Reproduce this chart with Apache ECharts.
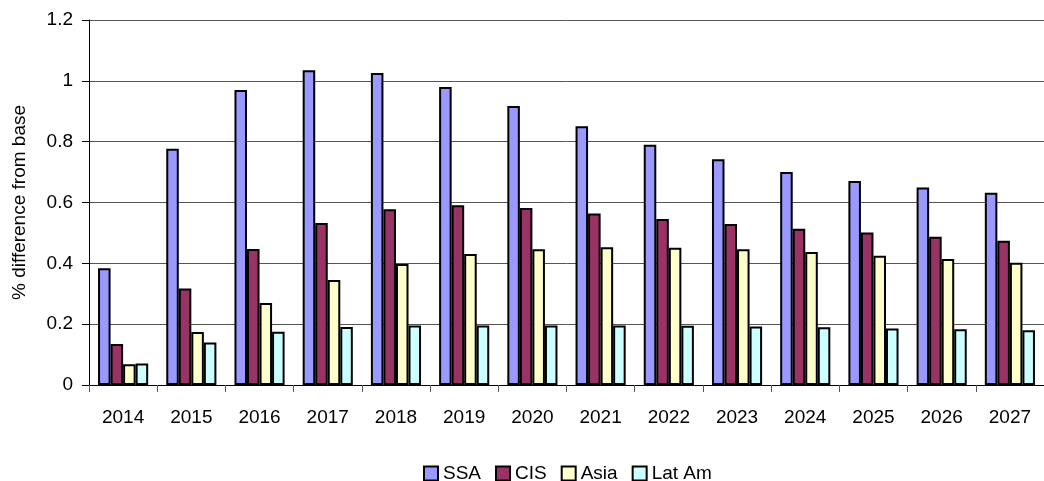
<!DOCTYPE html>
<html>
<head>
<meta charset="utf-8">
<script src="https://cdn.jsdelivr.net/npm/echarts@6/dist/echarts.min.js"></script>
<style>
html,body{margin:0;padding:0;background:#fff;}
#chart{width:1044px;height:481px;}
</style>
</head>
<body>
<div id="chart"></div>
<script>
const categories = ['2014','2015','2016','2017','2018','2019','2020','2021','2022','2023','2024','2025','2026','2027'];
const ssa   = [0.384,0.777,0.970,1.035,1.026,0.980,0.917,0.851,0.790,0.742,0.700,0.671,0.649,0.632];
const cis   = [0.135,0.317,0.447,0.533,0.578,0.591,0.582,0.564,0.546,0.529,0.514,0.501,0.487,0.474];
const asia  = [0.068,0.174,0.270,0.345,0.398,0.431,0.446,0.453,0.451,0.446,0.437,0.425,0.414,0.402];
const latam = [0.071,0.140,0.175,0.191,0.196,0.196,0.196,0.196,0.195,0.192,0.190,0.186,0.183,0.180];
const seriesNames = ['SSA','CIS','Asia','Lat Am'];
const yTicks = ['0','0.2','0.4','0.6','0.8','1','1.2'];

const colors = ['#9999FF','#993366','#FFFFCC','#CCFFFF'];
const font = 'Liberation Sans, Arial, sans-serif';
const chart = echarts.init(document.getElementById('chart'));
const values = [ssa, cis, asia, latam];
chart.setOption({
  animation: false,
  backgroundColor: '#fff',
  textStyle: { fontFamily: font, color: '#000' },
  grid: { left: 89, top: 20, width: 964, height: 365, containLabel: false },
  legend: {
    data: seriesNames,
    left: 418, top: 459,
    itemWidth: 14, itemHeight: 14, itemGap: 14,
    icon: 'rect',
    itemStyle: { borderColor: '#000', borderWidth: 2 },
    textStyle: { fontFamily: font, fontSize: 19, color: '#000', padding: [0, 0, 0, 0] }
  },
  xAxis: {
    type: 'category',
    data: categories,
    boundaryGap: true,
    axisLine: { lineStyle: { color: '#000', width: 1 } },
    axisTick: { show: true, length: 7, lineStyle: { color: '#555' } },
    axisLabel: { fontFamily: font, fontSize: 19, color: '#000', margin: 23, interval: 0 }
  },
  yAxis: {
    type: 'value',
    min: 0, max: 1.2, interval: 0.2,
    name: '% difference from base',
    nameLocation: 'middle',
    nameGap: 60,
    nameTextStyle: { fontFamily: font, fontSize: 19, color: '#000' },
    axisLine: { show: true, lineStyle: { color: '#000', width: 1 } },
    axisTick: { show: true, length: 7, lineStyle: { color: '#000' } },
    axisLabel: { fontFamily: font, fontSize: 19, color: '#000', margin: 16,
      formatter: function (v) { return yTicks[Math.round(v / 0.2)]; } },
    splitLine: { show: true, lineStyle: { color: '#555', width: 1 } }
  },
  series: seriesNames.map((n, i) => ({
    name: n,
    type: 'bar',
    data: values[i],
    barGap: '0%',
    barCategoryGap: '26.5%',
    itemStyle: { color: colors[i], borderColor: '#000', borderWidth: 2 }
  }))
});
</script>
</body>
</html>
